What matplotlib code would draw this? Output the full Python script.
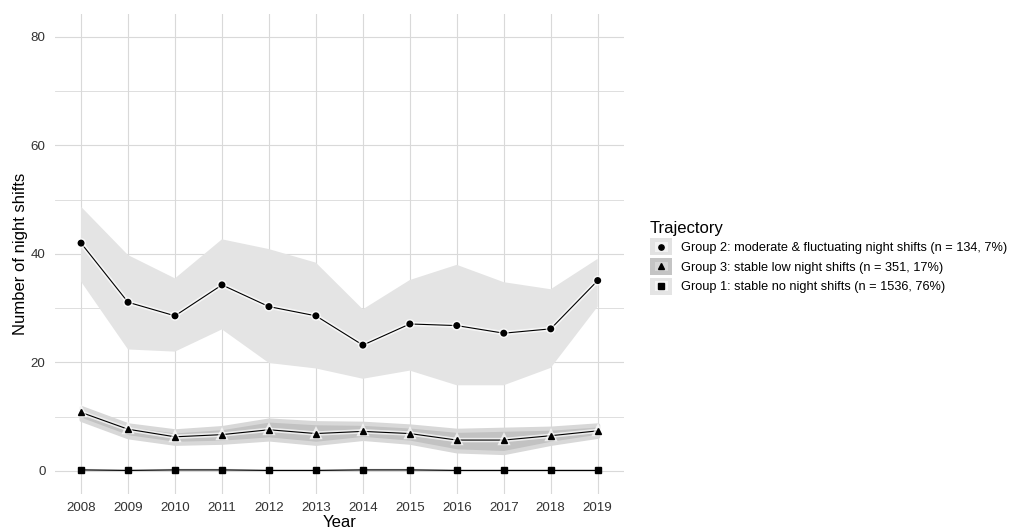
import matplotlib
matplotlib.use("Agg")
import matplotlib.pyplot as plt
import matplotlib.patheffects as pe
from matplotlib.lines import Line2D
from matplotlib.patches import Rectangle
from matplotlib.legend_handler import HandlerBase

plt.rcParams['font.family'] = ['Liberation Sans', 'DejaVu Sans']

# Trajectory estimates with their confidence bands
years = list(range(2008, 2020))

g2_mean = [42.0, 31.1, 28.6, 34.3, 30.3, 28.6, 23.2, 27.1, 26.8, 25.4, 26.2, 35.1]
g2_upper = [48.7, 39.8, 35.5, 42.7, 40.9, 38.4, 29.8, 35.2, 38.0, 34.8, 33.5, 39.1]
g2_lower = [34.9, 22.4, 22.0, 26.1, 19.9, 18.9, 17.0, 18.5, 15.8, 15.8, 19.0, 30.3]

g3_mean = [10.8, 7.7, 6.3, 6.7, 7.6, 6.9, 7.3, 6.9, 5.7, 5.7, 6.5, 7.4]
g3_upper = [11.7, 8.5, 7.4, 8.0, 9.4, 8.9, 8.8, 8.3, 7.5, 7.7, 7.9, 8.5]
g3_lower = [9.5, 6.3, 5.1, 5.3, 5.9, 5.1, 6.0, 5.3, 3.7, 3.4, 5.1, 6.4]

g1_mean = [0.2, 0.1, 0.2, 0.2, 0.1, 0.1, 0.2, 0.2, 0.1, 0.1, 0.1, 0.1]
g1_upper = [0.4, 0.3, 0.4, 0.4, 0.3, 0.3, 0.4, 0.4, 0.3, 0.3, 0.3, 0.3]
g1_lower = [0.0, 0.0, 0.0, 0.0, 0.0, 0.0, 0.0, 0.0, 0.0, 0.0, 0.0, 0.0]

labels = [
    "Group 2: moderate & fluctuating night shifts (n = 134, 7%)",
    "Group 3: stable low night shifts (n = 351, 17%)",
    "Group 1: stable no night shifts (n = 1536, 76%)",
]

fig = plt.figure(figsize=(10.19, 5.31), dpi=100)
ax = fig.add_axes([0.0542, 0.0701, 0.5577, 0.9032])

grid_col = '#d9d9d9'
ax.set_xlim(2007.45, 2019.55)
ax.set_ylim(-4.2, 84.2)
ax.set_xticks(years)
ax.set_yticks([0, 20, 40, 60, 80])
ax.set_yticks([10, 30, 50, 70], minor=True)
ax.grid(which='major', color=grid_col, linewidth=0.8)
ax.grid(which='minor', axis='y', color=grid_col, linewidth=0.6)
ax.set_axisbelow(True)
for s in ax.spines.values():
    s.set_visible(False)
ax.tick_params(which='both', length=0, labelsize=9.6, labelcolor='#333333')
ax.tick_params(axis='y', pad=7)
ax.tick_params(axis='x', pad=6)

ax.set_xlabel("Year", fontsize=12, labelpad=1)
ax.set_ylabel("Number of night shifts", fontsize=12, labelpad=2)

# confidence ribbons
ax.fill_between(years, g2_lower, g2_upper, facecolor='#e4e4e4', edgecolor='none', zorder=1)
ax.fill_between(years, g3_lower, g3_upper, facecolor='#c2c2c2', edgecolor='#d8d8d8',
                linewidth=3, zorder=1)
ax.fill_between(years, g1_lower, g1_upper, facecolor='#d8d8d8', edgecolor='none', zorder=1)

halo = [pe.Stroke(linewidth=3.2, foreground='white', alpha=0.7), pe.Normal()]
ax.plot(years, g2_mean, color='black', lw=0.8, marker='o', ms=4.0, zorder=3, path_effects=halo)
ax.plot(years, g3_mean, color='black', lw=0.8, marker='^', ms=4.4, zorder=3, path_effects=halo)
ax.plot(years, g1_mean, color='black', lw=0.8, marker='s', ms=4.0, zorder=3)


class KeyHandler(HandlerBase):
    # shaded key box with the group's marker in the middle
    def __init__(self, outer, inner, marker, ms):
        super().__init__()
        self.outer, self.inner, self.marker, self.ms = outer, inner, marker, ms

    def create_artists(self, legend, orig_handle, xdescent, ydescent, width, height,
                       fontsize, trans):
        box = Rectangle((-xdescent, -ydescent), width, height, facecolor=self.outer,
                        edgecolor='none', transform=trans)
        inset = 0.22
        core = Rectangle((-xdescent + width * inset, -ydescent + height * inset),
                         width * (1 - 2 * inset), height * (1 - 2 * inset),
                         facecolor=self.inner, edgecolor='none', transform=trans)
        dot = Line2D([-xdescent + width / 2], [-ydescent + height / 2], marker=self.marker,
                     color='black', ms=self.ms, linestyle='none', transform=trans)
        return [box, core, dot]


handles = [Line2D([], []), Line2D([], []), Line2D([], [])]
handler_map = {
    handles[0]: KeyHandler('#e2e2e2', '#f2f2f2', 'o', 3.8),
    handles[1]: KeyHandler('#c4c4c4', '#d6d6d6', '^', 4.2),
    handles[2]: KeyHandler('#e4e4e4', '#f4f4f4', 's', 3.8),
}
leg = fig.legend(handles, labels, handler_map=handler_map, title="Trajectory",
                 loc='center left', bbox_to_anchor=(0.638, 0.515), frameon=False,
                 fontsize=9.2, title_fontsize=12, handlelength=1.75, handleheight=1.65,
                 labelspacing=0.22, handletextpad=0.65, borderpad=0.0, borderaxespad=0.0)
leg._legend_box.align = 'left'

fig.savefig("out.png", dpi=100)
